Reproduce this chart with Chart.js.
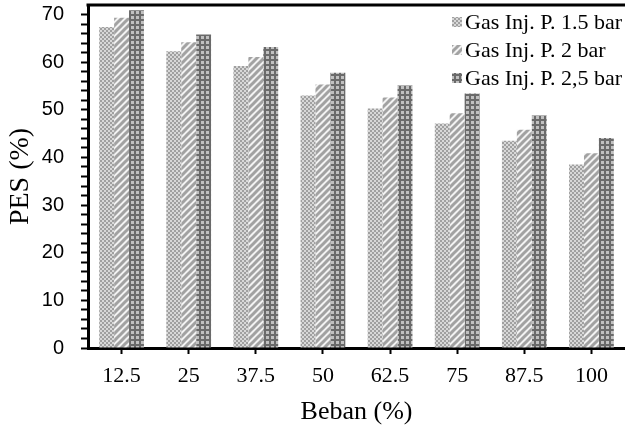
<!DOCTYPE html>
<html>
<head>
<meta charset="utf-8">
<script src="https://cdn.jsdelivr.net/npm/chart.js@4/dist/chart.umd.min.js"></script>
<style>
  html, body { margin: 0; padding: 0; background: #fff; }
  #wrap { width: 625px; height: 430px; }
</style>
</head>
<body>
<div id="wrap"><canvas id="pes"></canvas></div>
<script>
var labels = ["12.5", "25", "37.5", "50", "62.5", "75", "87.5", "100"];
var gas15 = [67.4, 62.3, 59.2, 53.0, 50.3, 47.1, 43.5, 38.5];
var gas2 = [69.3, 64.2, 61.1, 55.3, 52.6, 49.3, 45.8, 40.9];
var gas25 = [70.9, 65.8, 63.2, 57.8, 55.1, 53.4, 48.8, 44.1];
var seriesNames = ["Gas Inj. P. 1.5 bar", "Gas Inj. P. 2 bar", "Gas Inj. P. 2,5 bar"];

// fill patterns like the print version
function makePattern(kind) {
    var c = document.createElement("canvas");
    var g = c.getContext("2d");
    if (kind == "dots") {
        c.width = 4; c.height = 4;
        g.fillStyle = "#d8d8d8"; g.fillRect(0, 0, 4, 4);
        g.fillStyle = "#a0a0a0";
        g.fillRect(0, 0, 2, 2); g.fillRect(2, 2, 2, 2);
    } else if (kind == "stripes") {
        c.width = 7; c.height = 7;
        g.fillStyle = "#f2f2f2"; g.fillRect(0, 0, 7, 7);
        g.strokeStyle = "#a2a2a2"; g.lineWidth = 3;
        g.beginPath();
        g.moveTo(-1, 8); g.lineTo(8, -1);
        g.moveTo(-4, 4); g.lineTo(4, -4);
        g.moveTo(3, 11); g.lineTo(11, 3);
        g.stroke();
    } else {
        c.width = 5; c.height = 5;
        g.fillStyle = "#6a6a6a"; g.fillRect(0, 0, 5, 5);
        g.fillStyle = "#c0c0c0"; g.fillRect(1, 1, 3, 3);
    }
    return g.createPattern(c, "repeat");
}
var fills = [makePattern("dots"), makePattern("stripes"), makePattern("grid")];

var frameAndLegend = {
    id: "frameAndLegend",
    afterDraw: function (chart) {
        var ctx = chart.ctx, a = chart.chartArea;
        ctx.save();
        ctx.strokeStyle = "#000";
        ctx.lineWidth = 3;
        ctx.beginPath();
        ctx.moveTo(a.left - 1.5, a.top);
        ctx.lineTo(a.right, a.top);
        ctx.stroke();
        ctx.font = "22px 'Liberation Serif'";
        ctx.textBaseline = "middle";
        chart.data.datasets.forEach(function (ds, i) {
            var y = a.top + 17 + i * 28;
            var x = chart.width - 173;
            ctx.fillStyle = ds.backgroundColor;
            ctx.fillRect(x, y - 5, 10, 10);
            ctx.fillStyle = "#000";
            ctx.fillText(ds.label, x + 13, y + 1);
        });
        ctx.restore();
    }
};

new Chart(document.getElementById("pes"), {
    type: "bar",
    data: {
        labels: labels,
        datasets: [
            { label: seriesNames[0], data: gas15, backgroundColor: fills[0] },
            { label: seriesNames[1], data: gas2, backgroundColor: fills[1] },
            { label: seriesNames[2], data: gas25, backgroundColor: fills[2] }
        ]
    },
    options: {
        responsive: true,
        maintainAspectRatio: false,
        devicePixelRatio: 1,
        animation: false,
        layout: { padding: { left: 0, top: 5, right: 0, bottom: 0 } },
        datasets: { bar: { categoryPercentage: 0.667, barPercentage: 1.0 } },
        plugins: { legend: { display: false }, tooltip: { enabled: false } },
        scales: {
            x: {
                afterFit: function (scale) {
                    scale.height = 82;
                    scale.paddingLeft = 0;
                    scale.paddingRight = 0;
                },
                grid: { drawOnChartArea: false, offset: false, tickLength: 6, tickWidth: 2, color: "#000" },
                border: { color: "#000", width: 3 },
                ticks: { color: "#000", padding: 9, font: { family: "'Liberation Serif'", size: 22 } },
                title: { display: true, text: "Beban (%)", color: "#000", padding: { top: 0, bottom: 2 },
                         font: { family: "'Liberation Serif'", size: 26 } }
            },
            y: {
                min: 0,
                max: 72,
                afterBuildTicks: function (scale) {
                    scale.ticks = scale.ticks.filter(function (t) { return t.value <= 70; });
                },
                afterFit: function (scale) {
                    scale.width = 88;
                    scale.paddingTop = 0;
                    scale.paddingBottom = 0;
                },
                grid: { drawOnChartArea: false, tickLength: 7, tickWidth: 2, color: "#000" },
                border: { color: "#000", width: 3 },
                ticks: {
                    stepSize: 2,
                    autoSkip: false,
                    color: "#000",
                    padding: 17,
                    font: { family: "'Liberation Sans'", size: 20 },
                    callback: function (v) { return v % 10 === 0 ? v : ""; }
                },
                title: { display: true, text: "PES (%)", color: "#000", padding: { top: 4, bottom: 0 },
                         font: { family: "'Liberation Serif'", size: 28 } }
            }
        }
    },
    plugins: [frameAndLegend]
});
</script>
</body>
</html>
